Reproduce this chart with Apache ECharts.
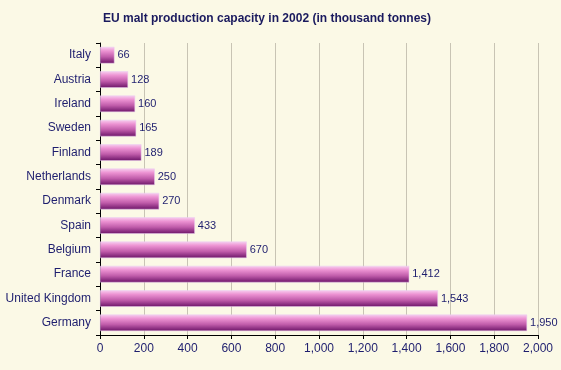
<!DOCTYPE html>
<html><head><meta charset="utf-8">
<script src="https://cdn.jsdelivr.net/npm/echarts@6/dist/echarts.min.js"></script>
<style>html,body{margin:0;padding:0;background:#FBF9E6;}#c{width:561px;height:370px;}</style>
</head><body><div id="c"></div>
<script>
const categories = ["Italy","Austria","Ireland","Sweden","Finland","Netherlands","Denmark","Spain","Belgium","France","United Kingdom","Germany"];
const values = [66,128,160,165,189,250,270,433,670,1412,1543,1950];
const xTicks = {min:0,max:2000,interval:200};
const titleText = "EU malt production capacity in 2002 (in thousand tonnes)";

const chart = echarts.init(document.getElementById('c'), null, {renderer:'canvas'});
const fmt = v => v.toLocaleString('en-US');
chart.setOption({
  backgroundColor:'#FBF9E6',
  animation:false,
  title:{text:titleText,left:98,top:8,textStyle:{fontFamily:'Liberation Sans, Arial',fontSize:12,fontWeight:'bold',color:'#1A1A5E'}},
  grid:{left:100,right:23,top:43,bottom:35,containLabel:false},
  xAxis:{type:'value',min:xTicks.min,max:xTicks.max,interval:xTicks.interval,
    axisLine:{show:true,lineStyle:{color:'#000'}},
    axisTick:{show:true,length:4,lineStyle:{color:'#000'}},
    axisLabel:{color:'#1E1E6E',fontFamily:'Liberation Sans, Arial',fontSize:12,margin:8,formatter:v=>fmt(v)},
    splitLine:{show:true,lineStyle:{color:'#C8C4B4',width:1}}},
  yAxis:{type:'category',data:categories,inverse:true,
    axisLine:{show:true,lineStyle:{color:'#000'}},
    axisTick:{show:true,length:4,lineStyle:{color:'#000'}},
    axisLabel:{color:'#1E1E6E',fontFamily:'Liberation Sans, Arial',fontSize:12,margin:9}},
  series:[{type:'bar',data:values,barCategoryGap:'32%',
    itemStyle:{color:new echarts.graphic.LinearGradient(0,0,0,1,[
      {offset:0,color:'#F8D0F0'},{offset:0.25,color:'#EC92D2'},{offset:0.6,color:'#C05CAA'},{offset:1,color:'#6C1468'}]),
      borderColor:'#E8C8F0',borderWidth:0.5},
    label:{show:true,position:'right',distance:3,color:'#1E1E6E',fontFamily:'Liberation Sans, Arial',fontSize:11,formatter:p=>fmt(p.value)}}]
});
</script></body></html>
